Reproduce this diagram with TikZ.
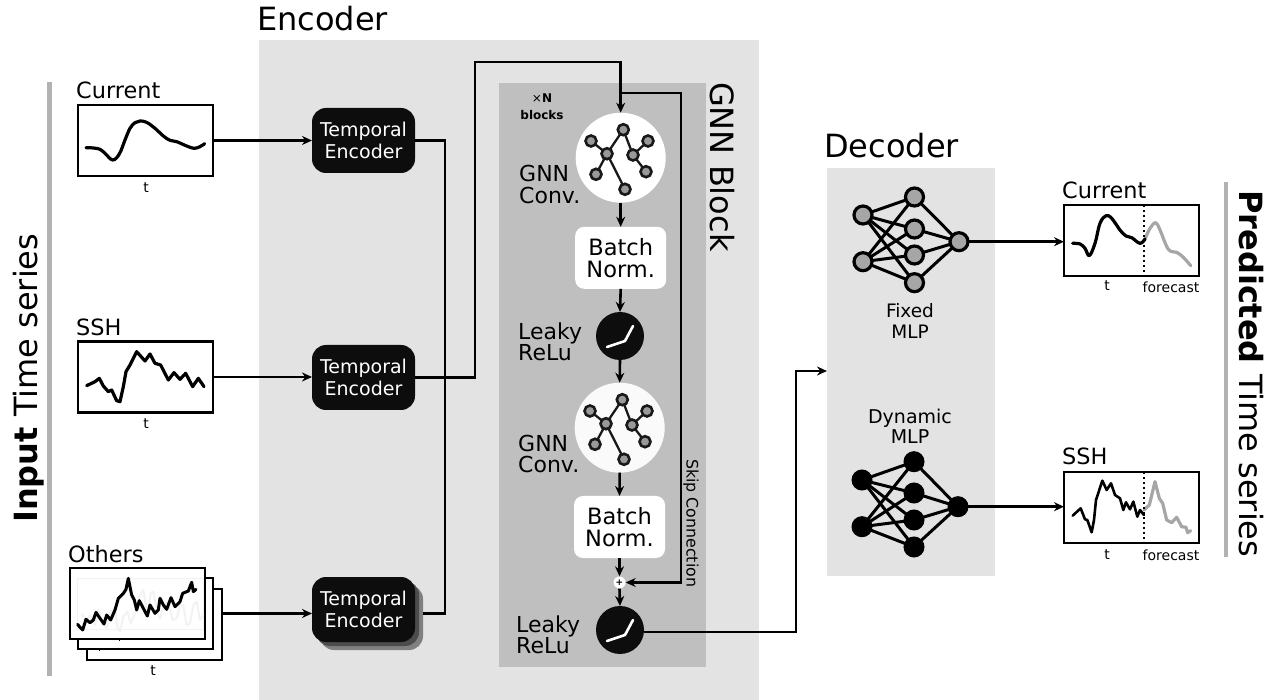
\documentclass[tikz,border=0pt]{standalone}
\usepackage{fontspec}
\setmainfont{DejaVu Sans}
\usetikzlibrary{arrows.meta}
\tikzset{
  x=1pt,y=-1pt,
  panelbox/.style={rectangle,draw=none,inner sep=0pt,outer sep=0pt},
  seriesbox/.style={rectangle,draw=black,line width=2.3pt,fill=white,minimum width=135pt,minimum height=71pt,inner sep=0pt,outer sep=0pt},
  tenc/.style={rectangle,rounded corners=14pt,fill=black!95,text=white,font=\fontsize{19}{22}\selectfont,align=center,minimum width=103pt,minimum height=65pt,inner sep=0pt,outer sep=0pt},
  tshadow/.style={rectangle,rounded corners=14pt,minimum width=103pt,minimum height=65pt,inner sep=0pt,outer sep=0pt},
  conv/.style={circle,minimum size=90pt,inner sep=0pt,outer sep=0pt},
  gnode/.style={circle,draw=black!90,fill=black!40,line width=2.6pt,minimum size=11pt,inner sep=0pt,outer sep=0pt},
  gedge/.style={draw=black!90,line width=2.3pt},
  bnorm/.style={rectangle,rounded corners=9pt,fill=white,align=center,font=\fontsize{22.5}{22}\selectfont,minimum width=91pt,minimum height=62pt,inner sep=0pt,outer sep=0pt},
  leaky/.style={circle,fill=black!95,minimum size=48pt,inner sep=0pt,outer sep=0pt},
  lab/.style={anchor=west,align=left,font=\fontsize{22}{21.5}\selectfont,inner sep=0pt},
  conn/.style={draw=black,line width=2.6pt,line join=miter},
  arr/.style={conn,-{Stealth[length=10pt,width=9pt]}},
  thick series/.style={line width=3.2pt,line join=round,line cap=round},
  mlpedge/.style={draw=black,line width=3pt},
  fixednode/.style={circle,draw=black,fill=black!35,line width=3.2pt,minimum size=18pt,inner sep=0pt,outer sep=0pt},
  dynnode/.style={circle,draw=black,fill=black,line width=1pt,minimum size=20pt,inner sep=0pt,outer sep=0pt},
  big/.style={font=\fontsize{32}{32}\selectfont,inner sep=0pt},
  name lab/.style={anchor=base west,font=\fontsize{22.4}{24}\selectfont,inner sep=0pt},
  small/.style={font=\fontsize{14}{16}\selectfont,inner sep=0pt},
  zoomA/.style={shift={(#1)},x=0.33333pt,y=-0.33333pt}
}
\newcommand{\gnnglyph}[3]{%
  \begin{scope}[shift={(#2pt,-#3pt)}]
    \node[gnode] (#1t) at (623.3,129.7) {};
    \node[gnode] (#1a) at (591,141) {};
    \node[gnode] (#1b) at (648,141) {};
    \node[gnode] (#1c) at (607,153.7) {};
    \node[gnode] (#1d) at (633,155) {};
    \node[gnode] (#1e) at (646,171.7) {};
    \node[gnode] (#1f) at (596,174.3) {};
    \node[gnode] (#1g) at (625,189.3) {};
    \draw[gedge] (#1t)--(#1c) (#1t)--(#1d) (#1a)--(#1c) (#1c)--(#1f) (#1c)--(#1g) (#1d)--(#1b) (#1d)--(#1e);
  \end{scope}}
\newcommand{\relucurve}[1]{%
  \draw[white,line width=2.6pt,line cap=round,line join=round] ([shift={(-13pt,-11pt)}]#1.center) -- ([shift={(5pt,-5pt)}]#1.center) -- ([shift={(13pt,10pt)}]#1.center);}
\begin{document}
\begin{tikzpicture}
\useasboundingbox (0,0) rectangle (1278,700);
\fill[white] (0,0) rectangle (1278,700);

% panels
\node[panelbox,fill=black!11,minimum width=500pt,minimum height=660pt] (encpanel) at (509,370) {};
\node[panelbox,fill=black!25,minimum width=207pt,minimum height=584pt] (gnnpanel) at (602.5,375) {};
\node[panelbox,fill=black!11,minimum width=168pt,minimum height=408pt] (decpanel) at (911,372) {};
\node[panelbox,fill=black!30,minimum width=4.5pt,minimum height=594pt] (inbar) at (49.5,379) {};
\node[panelbox,fill=black!30,minimum width=4.5pt,minimum height=375pt] (outbar) at (1226,369.5) {};

% titles
\node[big,anchor=base west] (enctitle) at (257,31) {Encoder};
\node[big,anchor=base west] (dectitle) at (824,158) {Decoder};
\node[big,anchor=base west,rotate=-90] (gnntitle) at (710,82) {GNN Block};
\node[big,anchor=base west,rotate=90] (intitle) at (37,523) {\textbf{Input} Time series};
\node[big,anchor=base west,rotate=-90] (outtitle) at (1239,190) {\textbf{Predicted} Time series};

% input series boxes
\node[seriesbox] (cur) at (145.5,140.5) {};
\node[seriesbox] (ssh) at (145.5,377) {};
\node[seriesbox] (oth3) at (154.5,624.5) {};
\node[seriesbox] (oth2) at (145.5,613.5) {};
\node[seriesbox] (oth1) at (137.5,603.5) {};
\draw[black,line width=1pt] (99.5,649) -- (99.5,651) (119,639) -- (119,641);
\node[name lab] (curl) at (76,99) {Current};
\node[name lab] (sshl) at (76,336) {SSH};
\node[name lab] (othl) at (68,562) {Others};
\node[small] (curt) at (146,188) {t};
\node[small] (ssht) at (146,424) {t};
\node[small] (otht) at (153,671) {t};

\begin{scope}[zoomA={40pt,-70pt}]
\draw[thick series] plot[smooth,tension=.6] coordinates {(138,233)(160,234)(180,238)(195,250)(218,270)(238,252)(255,210)(270,175)(285,158)(300,153)(320,157)(345,175)(370,198)(390,211)(410,215)(440,228)(462,235)(480,230)(494,221)};
\draw[thick series] plot coordinates {(140,947)(165,935)(178,925)(190,948)(205,965)(215,960)(230,992)(240,995)(250,950)(258,905)(270,885)(290,845)(315,873)(330,852)(345,880)(362,885)(385,930)(402,908)(420,928)(437,910)(458,950)(475,925)(492,950)};
\end{scope}
\begin{scope}[zoomA={40pt,-530pt}]
\draw[black!5,line width=1pt] (112,145) rectangle (490,300);
\draw[black!5,line width=2pt,line join=round] plot coordinates {(125,250)(138,275)(150,255)(165,285)(175,240)(188,280)(200,295)(212,245)(225,235)(232,290)(240,305)(250,260)(262,245)(272,280)(285,250)(298,200)(310,180)(318,230)(325,240)(332,190)(340,185)(350,240)(360,265)(372,225)(385,215)(398,270)(410,265)(420,225)(430,225)(440,285)(450,280)(460,225)(470,215)(480,270)(490,255)};
\draw[line width=3pt,line join=round,line cap=round] plot coordinates {(113,283)(120,292)(128,300)(138,268)(150,278)(160,270)(168,247)(180,265)(192,282)(200,255)(212,270)(225,240)(235,205)(250,190)(258,178)(265,145)(275,195)(283,210)(290,240)(298,212)(310,235)(322,258)(330,225)(345,250)(355,240)(360,205)(370,225)(380,238)(393,203)(405,230)(420,215)(428,190)(445,183)(455,157)(460,185)(468,178)};
\end{scope}

% temporal encoders
\node[tshadow,fill=black!50] (te3b) at (371.5,617.5) {};
\node[tshadow,fill=black!70] (te3a) at (367.5,613.5) {};
\node[tenc] (te1) at (363.5,140.5) {Temporal\\Encoder};
\node[tenc] (te2) at (363.5,377.5) {Temporal\\Encoder};
\node[tenc] (te3) at (363.5,609.5) {Temporal\\Encoder};

% GNN stack
\node[conv,fill=white] (conv1) at (620.7,157.7) {};
\node[conv,fill=black!2] (conv2) at (619.7,427.7) {};
\node[bnorm] (bn1) at (620.7,257.8) {Batch\\Norm.};
\node[bnorm] (bn2) at (619.5,527) {Batch\\Norm.};
\node[leaky] (lk1) at (620,336) {};
\node[leaky] (lk2) at (620,630) {};
\node[circle,fill=white,minimum size=12pt,inner sep=0pt,font=\fontsize{9}{9}\selectfont\bfseries] (plus) at (619.5,582.5) {+};
\relucurve{lk1}
\relucurve{lk2}
\gnnglyph{ga}{0}{0}
\gnnglyph{gb}{-1}{270}

\node[lab] (gl1) at (519,184.5) {GNN\\Conv.};
\node[lab] (ll1) at (518,342) {Leaky\\ReLu};
\node[lab] (gl2) at (518,454) {GNN\\Conv.};
\node[lab] (ll2) at (516,635) {Leaky\\ReLu};
\node[font=\fontsize{12}{16.5}\selectfont\bfseries,align=center,inner sep=0pt] (xn) at (542,106.5) {{\mdseries×}N\\blocks};
\node[font=\fontsize{15.8}{16}\selectfont,anchor=base west,rotate=-90,inner sep=0pt] (skipl) at (686.5,459) {Skip Connection};

% connectors in encoder
\coordinate (busT) at (445,140.5);
\coordinate (busB) at (445,613.5);
\coordinate (te3e) at (423,613.5);
\coordinate (up1) at (475,377.5);
\coordinate (up2) at (475,62);
\coordinate (up3) at (620.7,62);
\coordinate (skipA) at (620.7,93);
\coordinate (skipB) at (681,93);
\coordinate (skipC) at (681,582.5);
\draw[conn] (te1.east) -- (busT) -- (busB) -- (te3e);
\draw[conn] (te2.east) -- (up1) -- (up2) -- (up3) -- (skipA);
\draw[arr] (skipA) -- (conv1.north);
\draw[arr] (skipA) -- (skipB) -- (skipC) -- (plus.east);
\draw[arr] (conv1.south) -- (bn1.north);
\draw[arr] (bn1.south) -- (lk1.north);
\draw[arr] (lk1.south) -- (conv2.north);
\draw[arr] (conv2.south) -- (bn2.north);
\draw[arr] (bn2.south) -- (plus.north);
\draw[arr] (plus.south) -- (lk2.north);
\coordinate (ex1) at (796,632);
\coordinate (ex2) at (796,371);
\coordinate (decin) at (827,371);
\draw[arr] (lk2.east |- ex1) -- (ex1) -- (ex2) -- (decin);

\draw[arr] (cur.east) -- (te1.west);
\draw[arr] (ssh.east) -- (te2.west |- ssh.east);
\draw[arr] (oth3.east |- busB) -- (te3.west |- busB);

% Fixed MLP
\node[fixednode] (fi1) at (863,215) {};
\node[fixednode] (fi2) at (863,261.7) {};
\node[fixednode] (fh1) at (914.5,197) {};
\node[fixednode] (fh2) at (914.5,229) {};
\node[fixednode] (fh3) at (914.5,255) {};
\node[fixednode] (fh4) at (914.5,282.7) {};
\node[fixednode] (fo) at (959,241.7) {};
\foreach \h in {fh1,fh2,fh3,fh4}{
  \draw[mlpedge] (fi1) -- (\h);
  \draw[mlpedge] (fi2) -- (\h);
  \draw[mlpedge] (\h) -- (fo);
}
% Dynamic MLP
\node[dynnode] (di1) at (862,480) {};
\node[dynnode] (di2) at (862,526.7) {};
\node[dynnode] (dh1) at (914,461.7) {};
\node[dynnode] (dh2) at (914,493) {};
\node[dynnode] (dh3) at (914,520) {};
\node[dynnode] (dh4) at (914,547) {};
\node[dynnode] (do) at (958,506.7) {};
\foreach \h in {dh1,dh2,dh3,dh4}{
  \draw[mlpedge] (di1) -- (\h);
  \draw[mlpedge] (di2) -- (\h);
  \draw[mlpedge] (\h) -- (do);
}
\node[font=\fontsize{18.5}{21}\selectfont,align=center,inner sep=0pt] (fixl) at (910,320.5) {Fixed\\MLP};
\node[font=\fontsize{19}{20}\selectfont,align=center,inner sep=0pt] (dynl) at (910,426) {Dynamic\\MLP};

% output boxes
\node[seriesbox] (ocur) at (1131.5,240.5) {};
\node[seriesbox] (ossh) at (1131.5,507.5) {};
\draw[arr] (fo.east) -- (ocur.west |- fo.east);
\draw[arr] (do.east) -- (ossh.west |- do.east);
\node[name lab] (ocl) at (1062,199) {Current};
\node[name lab] (osl) at (1062,465) {SSH};
\node[small] (oct) at (1107,286) {t};
\node[small] (ocf) at (1171,287) {forecast};
\node[small] (ost) at (1107,555) {t};
\node[small] (osf) at (1171,555) {forecast};
\coordinate (d1a) at (1144,205);
\coordinate (d1b) at (1144,276);
\coordinate (d2a) at (1144,472);
\coordinate (d2b) at (1144,543);
\begin{scope}[zoomA={1040pt,-170pt}]
\draw[black!35,thick series] plot[smooth,tension=.6] coordinates {(315,207)(330,175)(347,158)(360,180)(385,238)(410,247)(430,262)(452,287)};
\draw[thick series] plot[smooth,tension=.6] coordinates {(98,220)(120,222)(135,235)(148,257)(165,220)(180,160)(198,137)(215,145)(240,180)(258,198)(275,203)(300,220)(315,207)};
\draw[black!35,thick series] plot coordinates {(312,1020)(328,1005)(345,935)(358,985)(368,1000)(380,1050)(395,1058)(410,1042)(425,1070)(438,1072)(443,1088)(452,1082)};
\draw[line width=2.6pt,line join=round,line cap=round] plot coordinates {(98,1037)(122,1015)(135,1048)(142,1050)(155,1087)(162,1050)(168,990)(187,932)(200,960)(213,940)(225,975)(240,985)(250,1020)(258,997)(270,1018)(280,995)(292,1040)(300,1020)(312,1035)};
\end{scope}
\draw[line width=2.2pt,dash pattern=on 2.5pt off 2.5pt] (d1a) -- (d1b);
\draw[line width=2.2pt,dash pattern=on 2.5pt off 2.5pt] (d2a) -- (d2b);
\end{tikzpicture}
\end{document}
